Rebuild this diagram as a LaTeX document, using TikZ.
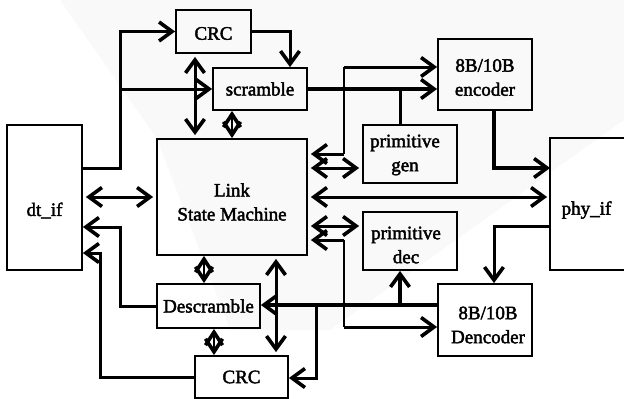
\documentclass[tikz,border=0pt]{standalone}
\usepackage{fontspec}
\setmainfont{Liberation Serif}[FakeBold=2.2]
\usetikzlibrary{arrows.meta}

\begin{document}
\begin{tikzpicture}[
  x=1pt, y=-1pt,
  >={Straight Barb[length=13pt,width=19pt,line width=3.6pt]},
  blk/.style={draw, line width=1.8pt, inner sep=0pt},
  txt/.style={align=center, font=\fontsize{19}{24}\selectfont},
  wire/.style={line width=3pt},
  heavy/.style={line width=4pt},
  fine/.style={line width=1.4pt},
  gap/.style={shorten >=3pt, shorten <=3pt},
  dia/.style={line width=1.5pt,
    {Straight Barb[length=13pt,width=17pt,line width=3.6pt]}-{Straight Barb[length=13pt,width=17pt,line width=3.6pt]}},
]
\useasboundingbox (0,0) rectangle (624,399);

% faint background band
\fill[gray!5] (60,0) -- (624,0) -- (624,120) -- (330,330) -- (230,330) -- (157,139) -- cycle;

% blocks
\node[blk, minimum width=75pt, minimum height=145pt,
      label={[txt, yshift=-13pt]center:dt\_if}] (dtif) at (44.5,197.5) {};
\node[blk, minimum width=75pt, minimum height=43pt,
      label={[txt, yshift=-2pt]center:CRC}] (crcT) at (213.5,31.5) {};
\node[blk, minimum width=94pt, minimum height=42pt,
      label={[txt]center:scramble}] (scr) at (260,89) {};
\node[blk, minimum width=150pt, minimum height=116pt,
      label={[txt, yshift=-5pt]center:Link\\State Machine}] (lsm) at (232,197) {};
\node[blk, minimum width=94pt, minimum height=58pt,
      label={[txt, yshift=-1pt, xshift=-5pt]center:primitive\\gen}] (pgen) at (410,154) {};
\node[blk, minimum width=94pt, minimum height=71pt,
      label={[txt, yshift=-3pt]center:8B/10B\\encoder}] (enc) at (485,74.5) {};
\node[blk, draw=none, minimum width=73pt, minimum height=130pt,
      label={[txt, yshift=-6pt, xshift=-1pt]center:phy\_if}] (phy) at (587.5,204) {};
\draw[line width=1.8pt] (phy.north east) -- (phy.north west) -- (phy.south west) -- (phy.south east);
\node[blk, minimum width=94pt, minimum height=58pt,
      label={[txt, yshift=-4pt, xshift=-4pt]center:primitive\\dec}] (pdec) at (410,241) {};
\node[blk, minimum width=94pt, minimum height=72pt,
      label={[txt, yshift=-5pt, xshift=3pt]center:8B/10B\\Dencoder}] (dec) at (485,320) {};
\node[blk, minimum width=103pt, minimum height=44pt,
      label={[txt]center:Descramble}] (dscr) at (208.5,306) {};
\node[blk, minimum width=93pt, minimum height=42pt,
      label={[txt]center:CRC}] (crcB) at (241.5,377) {};

% routing columns and rows
\coordinate (xa) at (120,0);
\coordinate (xb) at (290,0);
\coordinate (xc) at (195,0);
\coordinate (xd) at (232,0);
\coordinate (xt) at (344,0);
\coordinate (xp) at (400,0);
\coordinate (xe) at (494,0);
\coordinate (xq) at (316,0);
\coordinate (xr) at (276,0);
\coordinate (xs) at (204,0);
\coordinate (xu) at (214,0);
\coordinate (xv) at (100,0);
\coordinate (yA) at (0,168);
\coordinate (yB) at (0,154);
\coordinate (yC) at (0,67);
\coordinate (yM) at (0,197);
\coordinate (yN) at (0,226);
\coordinate (yP) at (0,240);
\coordinate (yQ) at (0,327);
\coordinate (yR) at (0,305);
\coordinate (yS) at (0,378);
\coordinate (yD) at (0,227);
\coordinate (yE) at (0,253);

% transmit side
\draw[wire,->] (dtif.east |- yA) -| (crcT.west -| xa) -- (crcT.west);
\draw[wire,->] (scr.west -| xa) -- (scr.west);
\draw[wire,->] (crcT.east) -| (scr.north -| xb);
\draw[wire,<->,gap] (crcT.south -| xc) -- (lsm.north -| xc);
\draw[dia] (scr.south -| xd) -- (lsm.north -| xd);
\draw[heavy,->] (scr.east) -- (enc.west |- scr.east);
\draw[wire] (xp |- scr.east) -- (pgen.north -| xp);
\draw[fine] (xt |- yB) -- (xt |- yC);
\draw[wire,->] (xt |- yC) -- (enc.west |- yC);
\draw[wire,->,shorten >=3pt] (xt |- yB) -- (lsm.east |- yB);
\draw[wire,<->,gap] (lsm.east |- yA) -- (pgen.west |- yA);
\draw[heavy,->] (enc.south -| xe) |- (phy.west |- yA);

% link state machine to interfaces
\draw[wire,<->,gap] (lsm.east |- yM) -- (phy.west |- yM);
\draw[wire,<->,gap] (dtif.east |- yM) -- (lsm.west |- yM);

% receive side
\draw[wire,<->,gap] (lsm.east |- yN) -- (pdec.west |- yN);
\draw[fine] (xt |- yP) -- (xt |- yQ);
\draw[wire,->,shorten >=3pt] (xt |- yP) -- (lsm.east |- yP);
\draw[wire,->] (xt |- yQ) -- (dec.west |- yQ);
\draw[wire,->] (phy.west |- yN) -| (dec.north -| xe);
\draw[heavy,->] (dec.west |- yR) -- (dscr.east |- yR);
\draw[heavy,->] (xp |- yR) -- (pdec.south -| xp);
\draw[wire,->] (xq |- yR) |- (crcB.east |- yS);
\draw[wire,<->,gap] (lsm.south -| xr) -- (crcB.north -| xr);
\draw[dia] (lsm.south -| xs) -- (dscr.north -| xs);
\draw[dia] (dscr.south -| xu) -- (crcB.north -| xu);
\draw[wire,->] (dscr.west) -| (xa |- yD) -- (dtif.east |- yD);
\draw[wire,->] (crcB.west) -| (xv |- yE) -- (dtif.east |- yE);
\end{tikzpicture}
\end{document}
